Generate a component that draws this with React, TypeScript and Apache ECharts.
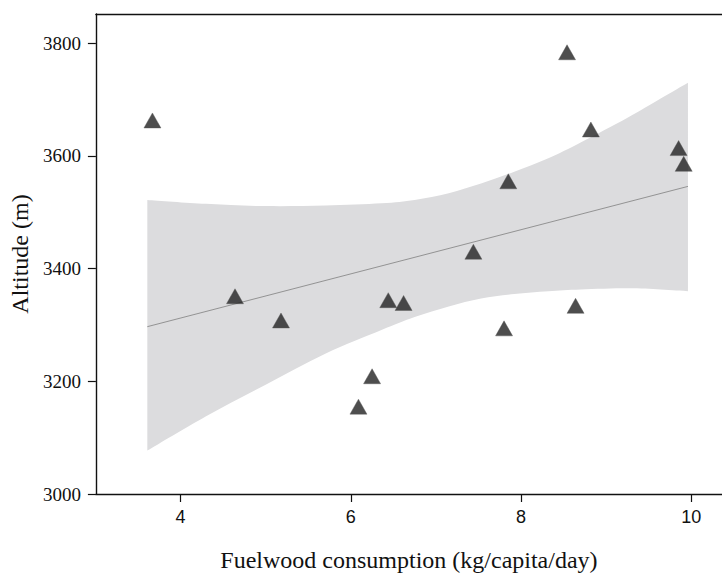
import React, { useEffect, useRef } from "react";
import * as echarts from "echarts";

// Observations: fuelwood consumption (kg/capita/day) vs altitude (m)
const fuelwood = [3.67, 4.64, 5.18, 6.09, 6.25, 6.44, 6.62, 7.44, 7.80, 7.85, 8.54, 8.64, 8.82, 9.85, 9.91];
const altitude = [3663, 3351, 3308, 3155, 3209, 3344, 3339, 3430, 3294, 3555, 3784, 3334, 3647, 3614, 3586];

// Fitted regression line end points
const fitX = [3.61, 9.96];
const fitY = [3297, 3546];

// Confidence band samples
const bandX = [3.61, 4.3, 5.0, 5.7, 6.36, 6.75, 7.15, 7.53, 7.92, 8.32, 8.70, 9.25, 9.64, 9.96];
const bandUpper = [3522, 3515, 3511, 3512, 3516, 3522, 3534, 3551, 3572, 3596, 3624, 3668, 3702, 3730];
const bandLower = [3077, 3138, 3194, 3249, 3291, 3314, 3333, 3347, 3355, 3360, 3363, 3365, 3363, 3360];

// Tick labels
const xTicks = [4, 6, 8, 10];
const yTicks = [3000, 3200, 3400, 3600, 3800];

// Catmull-Rom smoothing of screen points into an SVG path fragment
function smoothSegment(pts: number[][], moveFirst: boolean): string {
  let d = moveFirst ? `M${pts[0][0]},${pts[0][1]}` : `L${pts[0][0]},${pts[0][1]}`;
  for (let i = 0; i < pts.length - 1; i++) {
    const p0 = pts[i - 1] || pts[i];
    const p1 = pts[i];
    const p2 = pts[i + 1];
    const p3 = pts[i + 2] || p2;
    const c1x = p1[0] + (p2[0] - p0[0]) / 6;
    const c1y = p1[1] + (p2[1] - p0[1]) / 6;
    const c2x = p2[0] - (p3[0] - p1[0]) / 6;
    const c2y = p2[1] - (p3[1] - p1[1]) / 6;
    d += ` C${c1x},${c1y} ${c2x},${c2y} ${p2[0]},${p2[1]}`;
  }
  return d;
}

export default function App() {
  const ref = useRef<HTMLDivElement>(null);

  useEffect(() => {
    if (!ref.current) return;
    const chart = echarts.init(ref.current, undefined, { renderer: "svg" });
    const xMin = 3.006;
    const xMax = 10.36;
    chart.setOption({
      animation: false,
      backgroundColor: "#ffffff",
      grid: { left: 93, right: 0, top: 14, bottom: 72, containLabel: false },
      xAxis: [
        {
          type: "value",
          position: "bottom",
          min: xMin,
          max: xMax,
          axisLine: { show: true, onZero: false, lineStyle: { color: "#111", width: 1.4 } },
          axisTick: { show: true, customValues: xTicks, length: 8, lineStyle: { color: "#111", width: 1.2 } },
          axisLabel: {
            customValues: xTicks,
            fontFamily: "Liberation Sans",
            fontSize: 18,
            color: "#111",
            margin: 14,
          },
          splitLine: { show: false },
          name: "Fuelwood consumption (kg/capita/day)",
          nameLocation: "middle",
          nameGap: 54,
          nameTextStyle: { fontFamily: "Liberation Serif", fontSize: 24, color: "#111" },
        },
        {
          type: "value",
          position: "top",
          min: xMin,
          max: xMax,
          axisLine: { show: true, onZero: false, lineStyle: { color: "#111", width: 1.4 } },
          axisTick: { show: false },
          axisLabel: { show: false },
          splitLine: { show: false },
        },
      ],
      yAxis: {
        type: "value",
        min: 3000,
        max: 3852,
        axisLine: { show: true, onZero: false, lineStyle: { color: "#111", width: 1.4 } },
        axisTick: { show: true, customValues: yTicks, length: 8, lineStyle: { color: "#111", width: 1.2 } },
        axisLabel: {
          customValues: yTicks,
          formatter: (v: number) => String(v),
          fontFamily: "Liberation Serif",
          fontSize: 19,
          color: "#111",
          margin: 15,
        },
        splitLine: { show: false },
        name: "Altitude (m)",
        nameLocation: "middle",
        nameGap: 60,
        nameTextStyle: { fontFamily: "Liberation Serif", fontSize: 24, color: "#111" },
      },
      series: [
        {
          type: "custom",
          xAxisIndex: 0,
          data: [0],
          z: 1,
          silent: true,
          renderItem: (_params: any, api: any) => {
            const up = bandX.map((x, i) => api.coord([x, bandUpper[i]]));
            const lo = bandX.map((x, i) => api.coord([x, bandLower[i]])).reverse();
            const d = smoothSegment(up, true) + " " + smoothSegment(lo, false) + " Z";
            return {
              type: "path",
              shape: { pathData: d },
              style: { fill: "#dcdcde", stroke: "none" },
            };
          },
        },
        {
          type: "line",
          xAxisIndex: 0,
          symbol: "none",
          lineStyle: { color: "#8a8a8a", width: 0.9 },
          data: fitX.map((x, i) => [x, fitY[i]]),
          z: 2,
        },
        {
          type: "scatter",
          xAxisIndex: 0,
          symbol: "triangle",
          symbolSize: [17, 15],
          itemStyle: { color: "#222222", borderColor: "#555", borderWidth: 0.5 },
          data: fuelwood.map((x, i) => [x, altitude[i]]),
          z: 3,
        },
      ],
    });
    return () => chart.dispose();
  }, []);

  return (
    <div
      ref={ref}
      style={{ position: "fixed", left: 0, top: 0, width: 722, height: 577 }}
    />
  );
}
